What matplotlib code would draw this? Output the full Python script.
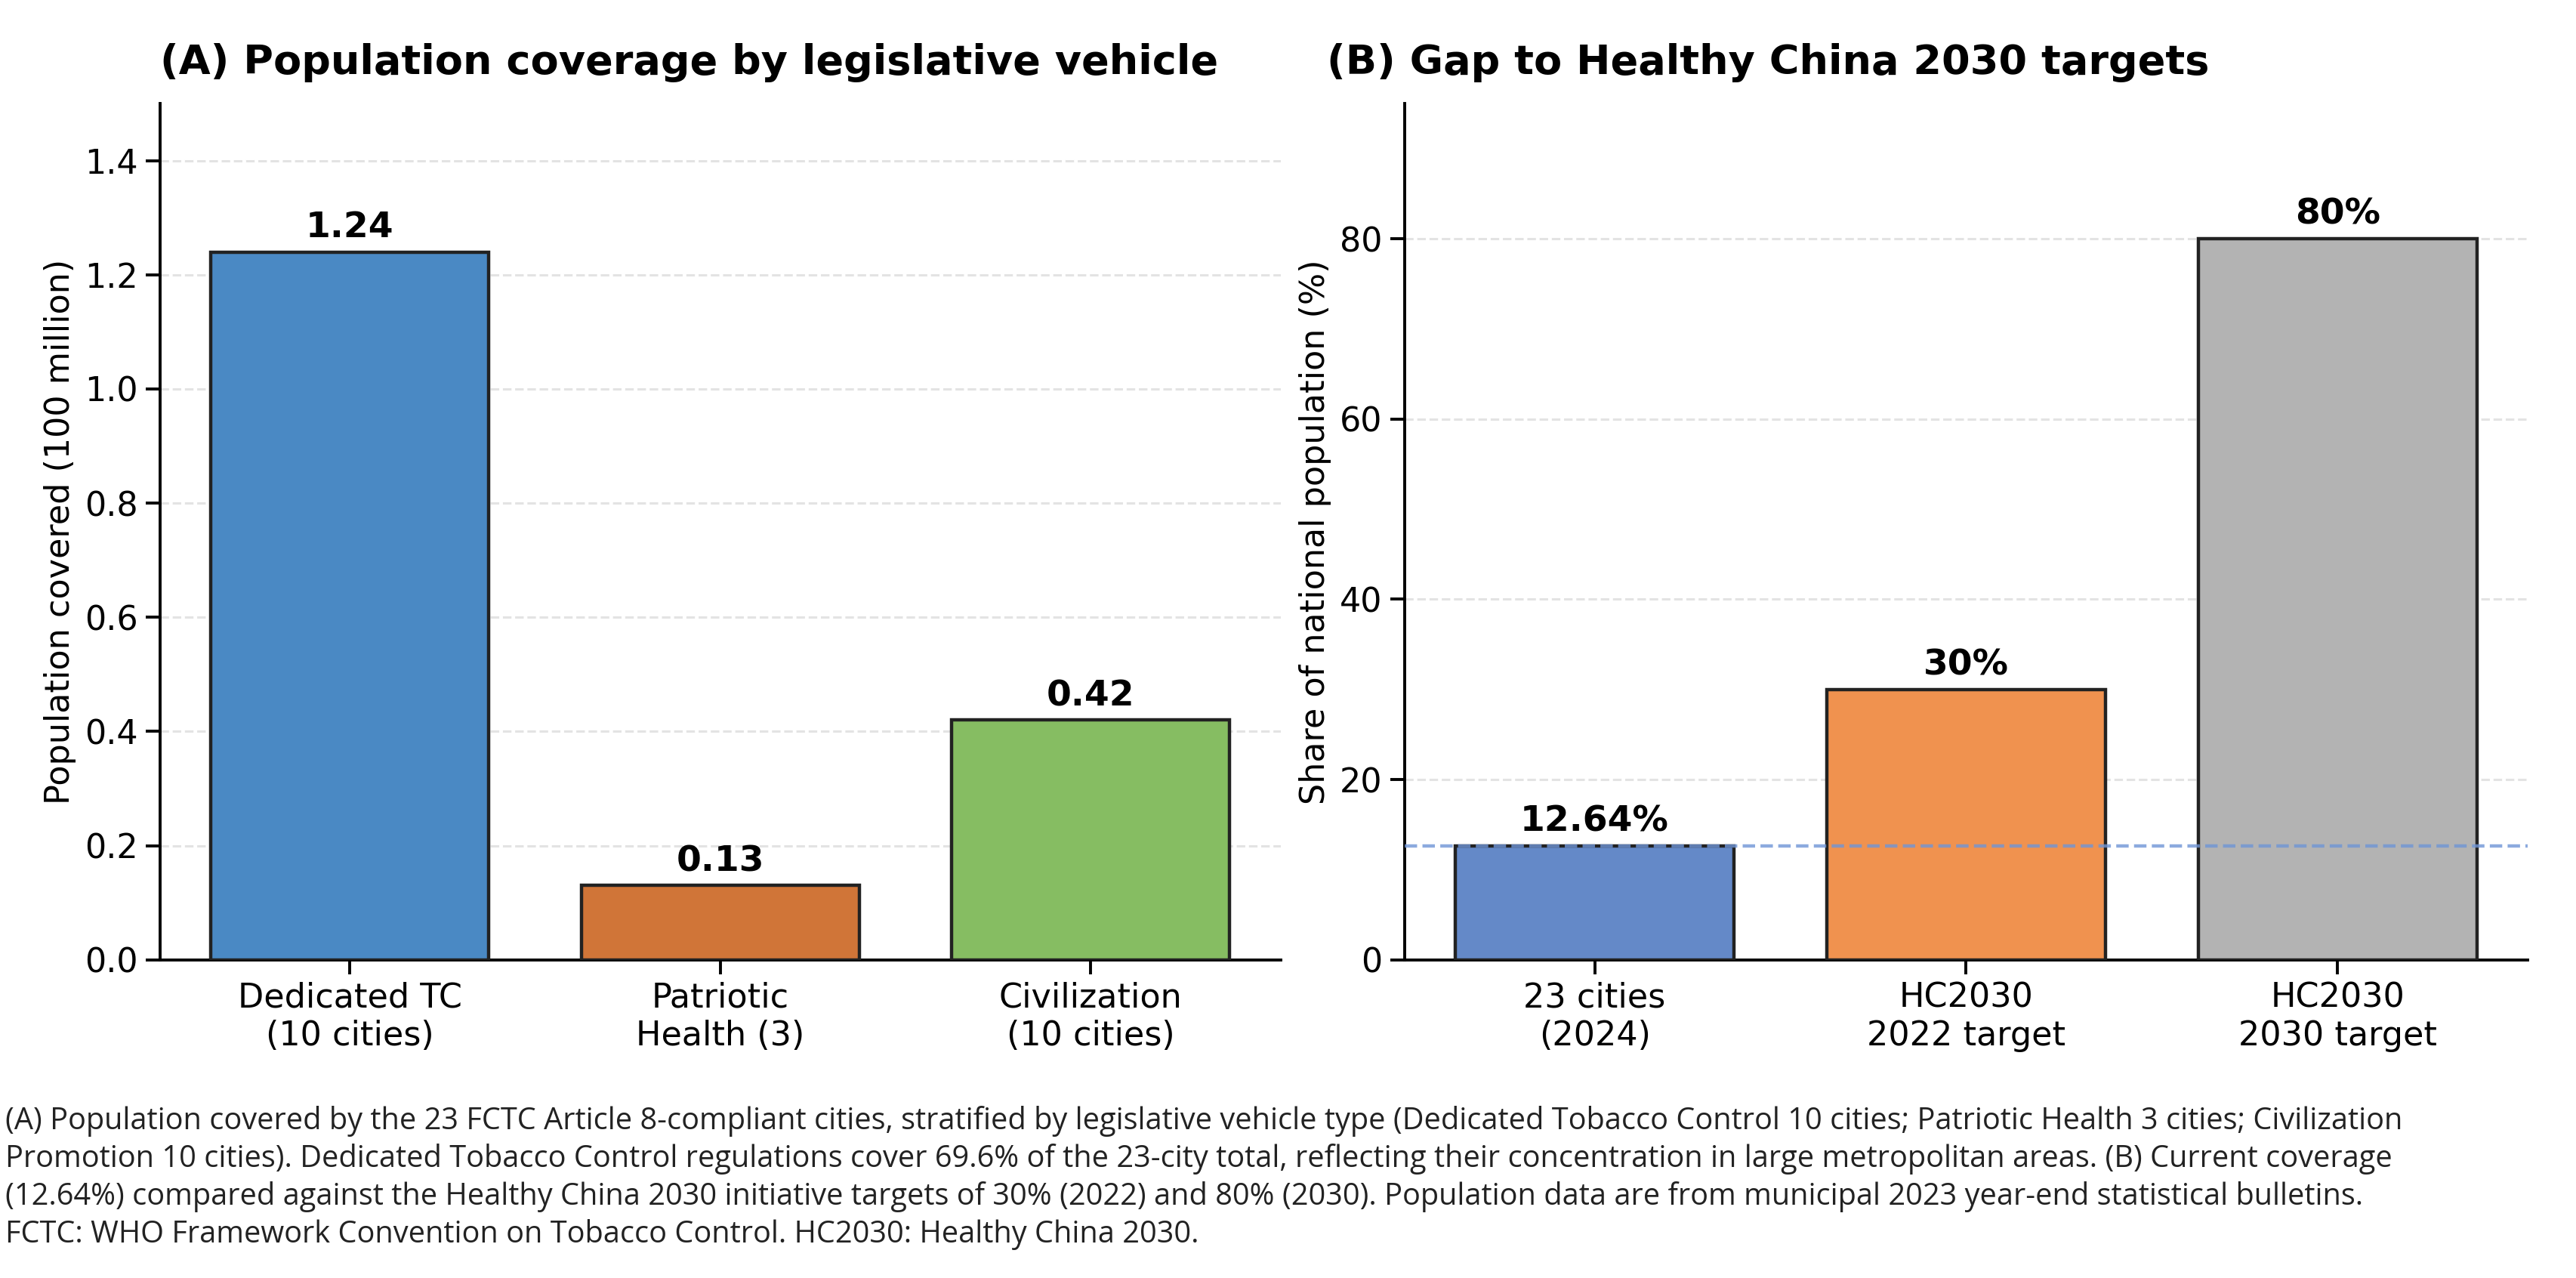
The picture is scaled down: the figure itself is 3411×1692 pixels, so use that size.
#!/usr/bin/env python3
from __future__ import annotations

import matplotlib.pyplot as plt

plt.rcParams['font.family'] = 'DejaVu Sans'
plt.rcParams['font.size'] = 16

vehicles = ["Dedicated TC\n(10 cities)", "Patriotic\nHealth (3)", "Civilization\n(10 cities)"]
population = [1.24, 0.13, 0.42]
population_labels = ["1.24", "0.13", "0.42"]

targets = ["23 cities\n(2024)", "HC2030\n2022 target", "HC2030\n2030 target"]
shares = [12.64, 30, 80]
share_labels = ["12.64%", "30%", "80%"]

CAPTION = ("(A) Population covered by the 23 FCTC Article 8-compliant cities, stratified by legislative vehicle type "
           "(Dedicated Tobacco Control 10 cities; Patriotic Health 3 cities; Civilization\n"
           "Promotion 10 cities). Dedicated Tobacco Control regulations cover 69.6% of the 23-city total, reflecting "
           "their concentration in large metropolitan areas. (B) Current coverage\n"
           "(12.64%) compared against the Healthy China 2030 initiative targets of 30% (2022) and 80% (2030). "
           "Population data are from municipal 2023 year-end statistical bulletins.\n"
           "FCTC: WHO Framework Convention on Tobacco Control. HC2030: Healthy China 2030.")


def graph_coverage(path: str):
    fig = plt.figure(figsize=(17.06, 8.46), dpi=200)
    ax_a = fig.add_axes([0.062, 0.249, 0.435, 0.67])
    ax_b = fig.add_axes([0.545, 0.249, 0.436, 0.67])

    bars = ax_a.bar(vehicles, population, color=["#4a89c4", "#d07538", "#86bd62"],
                    edgecolor="#222222", linewidth=1.6, width=0.75, zorder=3)
    for bar, lab in zip(bars, population_labels):
        ax_a.text(bar.get_x() + bar.get_width() / 2, bar.get_height() + 0.012, lab,
                  ha="center", va="bottom", fontweight="bold", fontsize=17)
    ax_a.set_ylim(0, 1.5)
    ax_a.set_yticks([0.0, 0.2, 0.4, 0.6, 0.8, 1.0, 1.2, 1.4])
    ax_a.set_ylabel("Population covered (100 million)")
    ax_a.set_title("(A) Population coverage by legislative vehicle", loc="left",
                   fontweight="bold", fontsize=19.5, x=0.0, pad=14)

    bars = ax_b.bar(targets, shares, color=["#6489c8", "#f0924f", "#b3b3b3"],
                    edgecolor="#222222", linewidth=1.6, width=0.75, zorder=3)
    for bar, lab in zip(bars, share_labels):
        ax_b.text(bar.get_x() + bar.get_width() / 2, bar.get_height() + 0.8, lab,
                  ha="center", va="bottom", fontweight="bold", fontsize=17)
    ax_b.axhline(y=shares[0], linestyle="--", color="#6f95d6", alpha=0.8, linewidth=1.6, zorder=4)
    ax_b.set_ylim(0, 95)
    ax_b.set_yticks([0, 20, 40, 60, 80])
    ax_b.set_ylabel("Share of national population (%)")
    ax_b.set_title("(B) Gap to Healthy China 2030 targets", loc="left",
                   fontweight="bold", fontsize=19.5, x=-0.069, pad=14)

    for ax in (ax_a, ax_b):
        ax.spines["top"].set_visible(False)
        ax.spines["right"].set_visible(False)
        ax.spines["left"].set_linewidth(1.4)
        ax.spines["bottom"].set_linewidth(1.4)
        ax.grid(axis="y", linestyle="--", color="#e3e3e3", linewidth=1.1, zorder=0)
        ax.tick_params(width=1.4, length=7)

    fig.text(0.002, 0.135, CAPTION, ha="left", va="top", fontsize=14.3,
             family="Open Sans", linespacing=1.3, color="#222222")

    fig.savefig(path)
    plt.close(fig)


graph_coverage("out.png")
